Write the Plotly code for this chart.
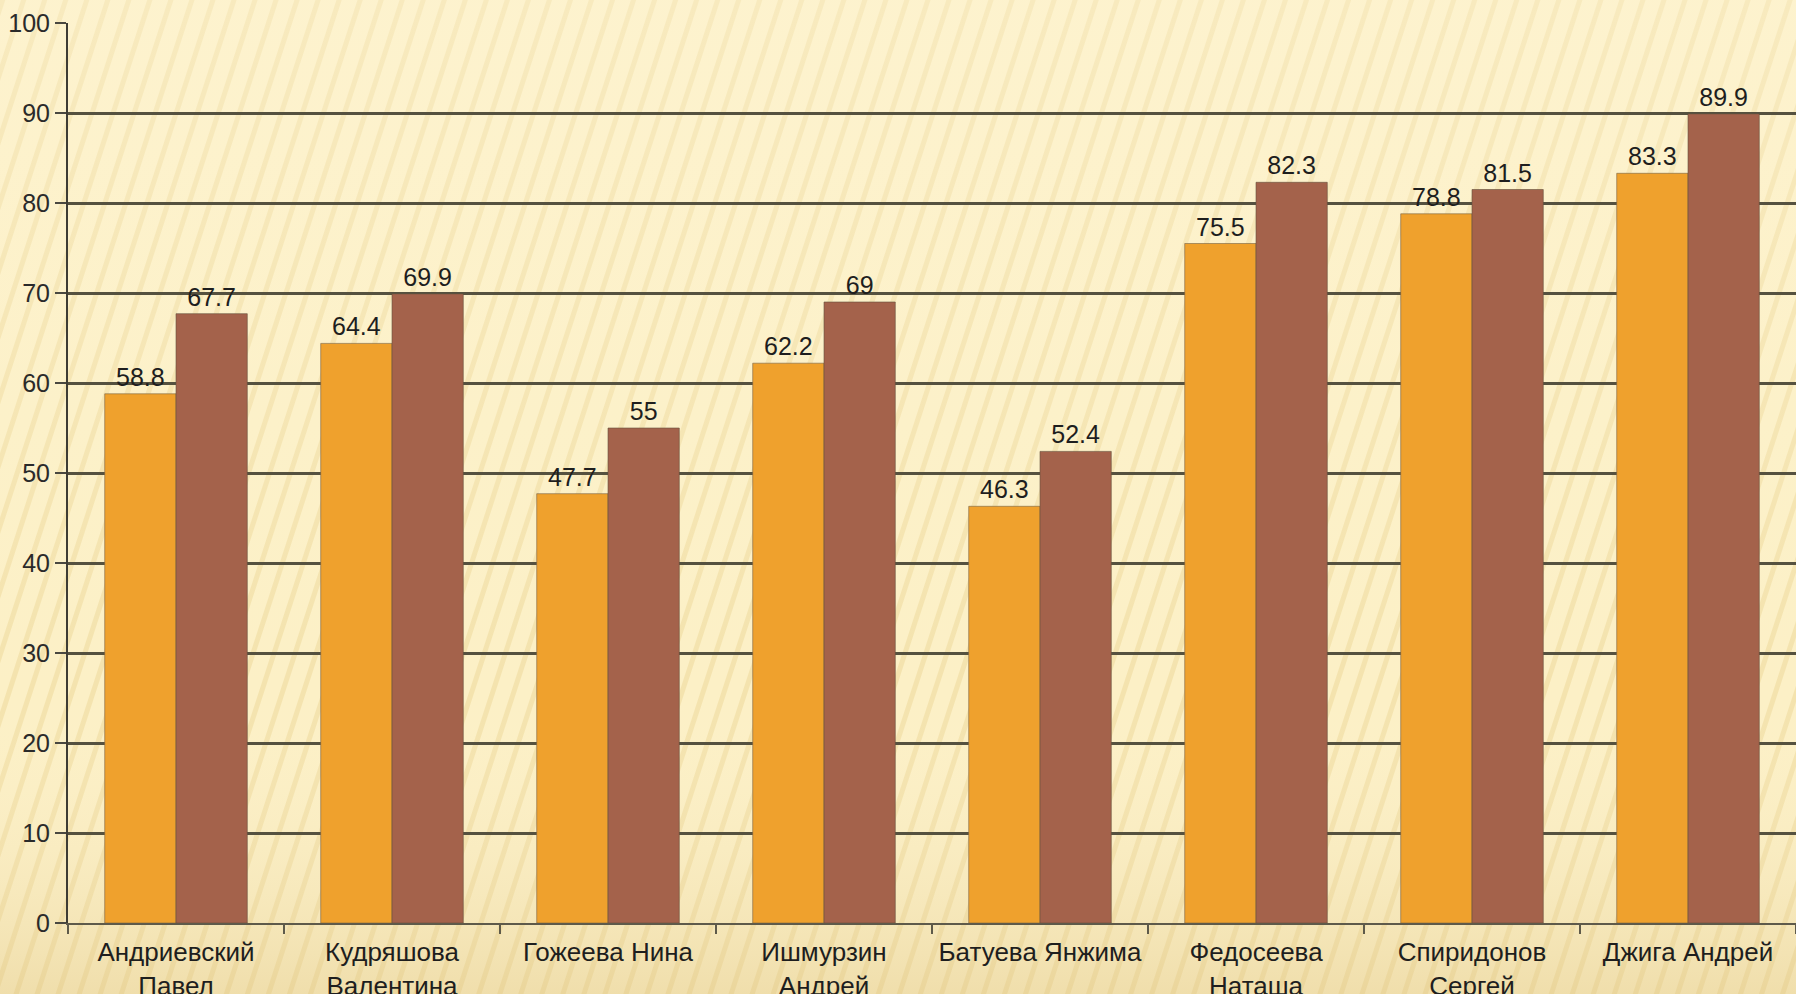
import base64
import plotly.graph_objects as go

categories = [
    "Андриевский<br>Павел",
    "Кудряшова<br>Валентина",
    "Гожеева Нина",
    "Ишмурзин<br>Андрей",
    "Батуева Янжима",
    "Федосеева<br>Наташа",
    "Спиридонов<br>Сергей",
    "Джига Андрей",
]
series_1 = [58.8, 64.4, 47.7, 62.2, 46.3, 75.5, 78.8, 83.3]
series_2 = [67.7, 69.9, 55, 69, 52.4, 82.3, 81.5, 89.9]
y_ticks = [0, 10, 20, 30, 40, 50, 60, 70, 80, 90, 100]

W, H = 1796, 994
ML, MR, MT, MB = 68, 0, 23, 71

label_font = dict(family="Liberation Sans, Arial, sans-serif", size=25, color="#1e1e1e")

# decorative striped background (slide texture)
svg = f"""<svg xmlns='http://www.w3.org/2000/svg' width='{W}' height='{H}' viewBox='0 0 {W} {H}'>
<defs>
<pattern id='p' width='20' height='20' patternUnits='userSpaceOnUse' patternTransform='rotate(18)'>
<rect width='20' height='20' fill='#FCF0C6'/>
<rect x='0' y='0' width='5' height='20' fill='#EEDA9E' opacity='0.6'/>
</pattern>
<linearGradient id='g' x1='0' y1='0' x2='0' y2='1'>
<stop offset='0' stop-color='#FFF7DC' stop-opacity='0.35'/>
<stop offset='0.7' stop-color='#FFF7DC' stop-opacity='0'/>
<stop offset='1' stop-color='#D9BD7A' stop-opacity='0.35'/>
</linearGradient>
</defs>
<rect width='{W}' height='{H}' fill='url(#p)'/>
<rect width='{W}' height='{H}' fill='url(#g)'/>
</svg>"""
bg_uri = "data:image/svg+xml;base64," + base64.b64encode(svg.encode()).decode()

pw = W - ML - MR
ph = H - MT - MB

fig = go.Figure()
fig.add_trace(go.Bar(
    x=categories, y=series_1, name="1",
    marker=dict(color="#EFA12D", line=dict(color="rgba(120,100,70,0.6)", width=1)),
    text=[f"{v:g}" for v in series_1], textposition="outside",
    textfont=label_font, cliponaxis=False,
))
fig.add_trace(go.Bar(
    x=categories, y=series_2, name="2",
    marker=dict(color="#A4624B", line=dict(color="rgba(100,80,60,0.6)", width=1)),
    text=[f"{v:g}" for v in series_2], textposition="outside",
    textfont=label_font, cliponaxis=False,
))

fig.update_layout(
    width=W, height=H,
    margin=dict(l=ML, r=MR, t=MT, b=MB, autoexpand=False),
    paper_bgcolor="#FAEDC2",
    plot_bgcolor="rgba(0,0,0,0)",
    barmode="group", bargap=0.34, bargroupgap=0,
    showlegend=False,
    hovermode=False,
    images=[dict(
        source=bg_uri, xref="paper", yref="paper",
        x=-ML / pw, y=1 + MT / ph, sizex=W / pw, sizey=H / ph,
        xanchor="left", yanchor="top", sizing="stretch", layer="below",
    )],
)
fig.update_xaxes(
    type="category", automargin=False,
    showline=True, linecolor="#5e5a4a", linewidth=2,
    ticks="outside", tickson="boundaries", ticklen=9, tickcolor="#5e5a4a", tickwidth=2,
    ticklabelstandoff=5,
    tickfont=dict(family="Liberation Sans Narrow, Arial Narrow, Liberation Sans, sans-serif", size=26, color="#1e1e1e"),
    showgrid=False,
)
fig.update_yaxes(
    range=[0, 100], tickvals=y_ticks, automargin=False,
    showline=True, linecolor="#3e3c34", linewidth=2,
    ticks="outside", ticklen=11, tickcolor="#4a4840", tickwidth=2,
    showgrid=True, gridcolor="#55513f", gridwidth=2.5,
    zeroline=False,
    tickfont=dict(family="Liberation Sans, Arial, sans-serif", size=25, color="#2a2a2a"),
)

fig.write_html("out.html", config={"displayModeBar": False},
               post_script="document.body.style.margin='0';document.body.style.overflow='hidden';")
